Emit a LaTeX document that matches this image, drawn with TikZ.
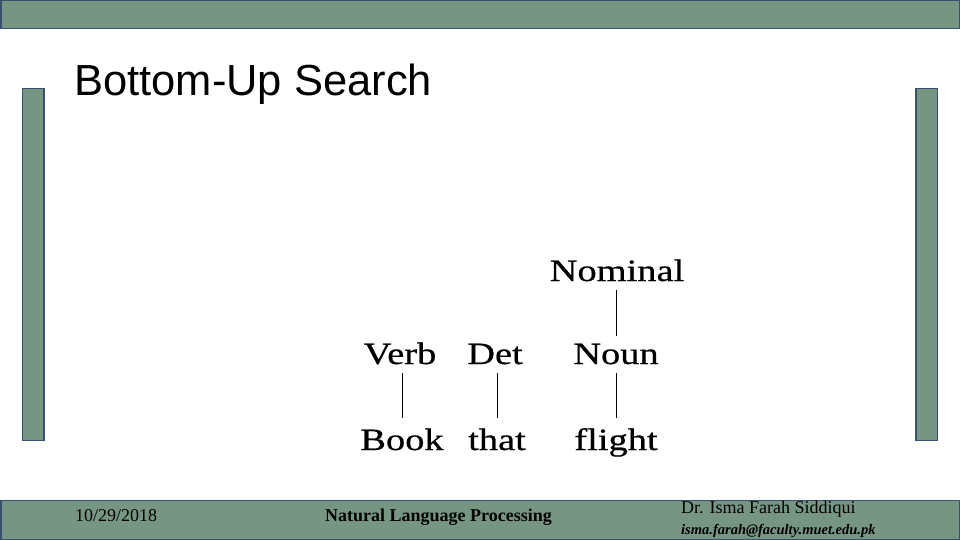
\documentclass[tikz,border=0pt]{standalone}
\usepackage{fontspec}
\setmainfont{Liberation Serif}
\newfontfamily\titlefont{Liberation Sans}
\newfontfamily\treefont[FakeStretch=1.24,FakeBold=0.6]{Liberation Serif}
\definecolor{barfill}{RGB}{118,150,131}
\definecolor{barline}{RGB}{58,80,112}
\tikzset{
  bar/.style={fill=barfill, draw=barline, line width=1.5pt},
  word/.style={font=\treefont\fontsize{31}{33}\selectfont, anchor=base, text height=21pt, text depth=7pt, inner sep=2pt},
  footer/.style={font=\fontsize{18}{20}\selectfont, anchor=base west, inner sep=0pt},
  link/.style={draw=black, line width=0.9pt}
}
\begin{document}
\begin{tikzpicture}[x=1pt,y=-1pt]
\useasboundingbox (0,0) rectangle (960,540);
\fill[white] (0,0) rectangle (960,540);
% top bar
\path[bar] (0.75,0.75) rectangle (959.25,28.5);
% side bars
\path[bar] (22.5,88.5) rectangle (44,440.5);
\path[bar] (916,88.5) rectangle (937.5,440.5);
% bottom bar
\path[bar] (0.75,500.5) rectangle (959.25,539.25);
% title
\node[font=\titlefont\fontsize{43.5}{47}\selectfont, anchor=base west, inner sep=0pt] (title) at (74,96) {Bottom-Up Search};
% tree
\node[word] (nominal) at (617,281) {Nominal};
\node[word] (verb) at (400,364) {Verb};
\node[word] (det) at (495,364) {Det};
\node[word] (noun) at (616,364) {Noun};
\node[word] (book) at (402,450) {Book};
\node[word] (that) at (497,450) {that};
\node[word] (flight) at (616,450) {flight};
\draw[link, shorten >=9pt] (verb.south -| book.north) -- (book.north);
\draw[link, shorten >=9pt] (det.south -| that.north) -- (that.north);
\draw[link, shorten >=9pt] (noun.south -| flight.north) -- (flight.north);
\draw[link, shorten >=5pt] (nominal.south -| noun.north) -- (noun.north);
% footer
\node[footer] (date) at (75,521) {10/29/2018};
\node[footer, font=\bfseries\fontsize{18}{20}\selectfont] (course) at (325,521) {Natural Language Processing};
\node[footer] (author) at (681,513) {Dr. Isma Farah Siddiqui};
\node[footer, font=\bfseries\itshape\fontsize{14.5}{16}\selectfont] (mail) at (681,534) {isma.farah@faculty.muet.edu.pk};
\end{tikzpicture}
\end{document}
